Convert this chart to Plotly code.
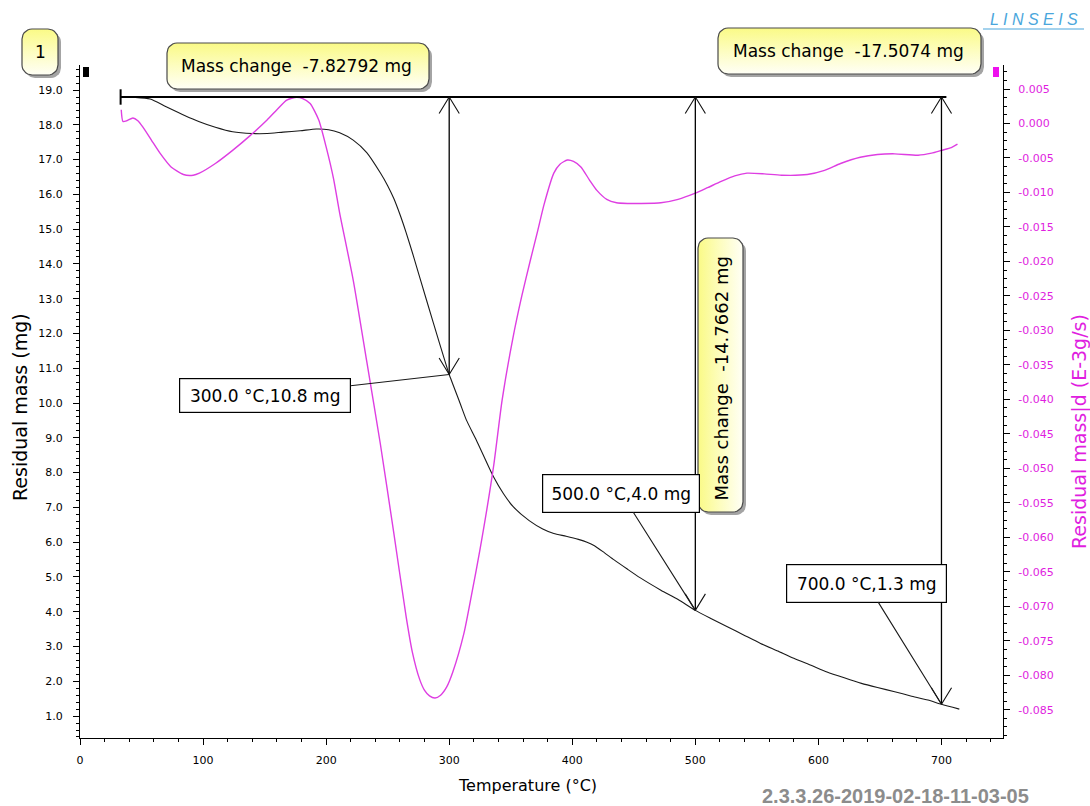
import numpy as np
import plotly.graph_objects as go

W, H = 1090, 806
FONT = "DejaVu Sans"

# ---------------- data ----------------
temp_mass = [33, 45, 57, 70, 85, 97, 110, 124, 140, 152, 165, 179, 192, 202, 211, 222, 233,
             244, 250, 255, 260, 265, 271, 276, 287, 298, 300, 309, 314, 322, 336, 344, 352,
             365, 376, 385, 395, 405, 412, 418, 426, 434, 445, 455, 472, 486, 500, 513, 526,
             540, 553, 567, 580, 594, 607, 621, 635, 648, 662, 675, 689, 700, 714.5]
mass = [18.80, 18.79, 18.74, 18.52, 18.27, 18.09, 17.93, 17.80, 17.75, 17.75, 17.79, 17.83,
        17.88, 17.86, 17.77, 17.56, 17.20, 16.62, 16.25, 15.88, 15.42, 14.90, 14.22, 13.62,
        12.32, 11.04, 10.82, 9.98, 9.51, 8.94, 7.88, 7.40, 7.02, 6.62, 6.38, 6.25, 6.17,
        6.08, 6.00, 5.90, 5.70, 5.49, 5.22, 4.98, 4.62, 4.35, 4.04, 3.80, 3.57, 3.32, 3.09,
        2.87, 2.66, 2.46, 2.27, 2.10, 1.94, 1.82, 1.70, 1.58, 1.46, 1.34, 1.20]

temp_dtg = [33.5, 34.9, 38, 43, 47, 51, 58, 65, 74, 84, 92, 97, 110, 124, 138, 152, 160, 168,
            176, 181, 187, 194, 200, 206, 211, 222, 233, 244, 255, 265, 270, 276, 280, 284,
            288.5, 293, 298, 303, 312, 318, 325, 336, 343, 352, 359, 366, 372, 377, 385, 390,
            396, 401, 407, 414, 420, 428, 436, 445, 455, 472, 486, 500, 510, 521, 532, 542,
            556, 570, 591, 605, 618, 634, 648, 662, 681, 692, 700, 708, 713]
dtg = [0.0020, 0.0003, 0.0004, 0.0008, 0.0004, -0.0005, -0.0024, -0.0043, -0.0063, -0.0074,
       -0.0075, -0.0072, -0.0058, -0.0039, -0.0018, 0.0005, 0.0020, 0.0034, 0.0038, 0.0036,
       0.0029, 0.0005, -0.0034, -0.0080, -0.0130, -0.0227, -0.0345, -0.0464, -0.0594,
       -0.0715, -0.0766, -0.0806, -0.0822, -0.0830, -0.0833, -0.0829, -0.0817, -0.0795,
       -0.0739, -0.0685, -0.0618, -0.0498, -0.0401, -0.0309, -0.0250, -0.0198, -0.0155,
       -0.0118, -0.0072, -0.0059, -0.0053, -0.0055, -0.0063, -0.0082, -0.0097, -0.0110,
       -0.0115, -0.0116, -0.0116, -0.0115, -0.0110, -0.0101, -0.0093, -0.0084, -0.0076,
       -0.0072, -0.0073, -0.0075, -0.0074, -0.0068, -0.0058, -0.0049, -0.0045, -0.0044,
       -0.0046, -0.0043, -0.0039, -0.0035, -0.0030]

marker_temps = [300, 500, 700]
mass_change_texts = ["Mass change\u00a0 -7.82792 mg", "Mass change\u00a0 -14.7662 mg",
                     "Mass change\u00a0 -17.5074 mg"]
x_ticks = [0, 100, 200, 300, 400, 500, 600, 700]
left_ticks = list(range(1, 20))
left_ticktext = [f"{v:.1f}" for v in left_ticks]
right_ticks = [round(-0.085 + 0.005 * i, 3) for i in range(19)]
right_ticktext = [f"{v:.3f}" for v in right_ticks]

BLACK = "#000000"
MAG_LINE = "rgb(222,62,226)"
MAG_TEXT = "#e01ee0"

fig = go.Figure()

# ---------------- curves ----------------
fig.add_trace(go.Scatter(x=temp_mass, y=mass, mode="lines", line=dict(color="#1a1a1a", width=1.1,
                         shape="spline", smoothing=0.6), xaxis="x", yaxis="y", showlegend=False))
fig.add_trace(go.Scatter(x=temp_dtg, y=dtg, mode="lines", line=dict(color=MAG_LINE, width=1.4,
                         shape="spline", smoothing=0.6), xaxis="x", yaxis="y2", showlegend=False))

# start cross of baseline
fig.add_trace(go.Scatter(x=[temp_mass[0]], y=[mass[0]], mode="markers",
                         marker=dict(symbol="line-ns", size=11, line=dict(width=2, color=BLACK)),
                         xaxis="x", yaxis="y", showlegend=False))

# baseline
base = mass[0]
fig.add_shape(type="line", xref="x", yref="y", x0=temp_mass[0], x1=marker_temps[-1] + 4,
              y0=base, y1=base, line=dict(color=BLACK, width=2))

# ---------------- overlay pixel axes for call-out boxes ----------------
def rrect(x0, y0, x1, y1, r, n=8):
    xs, ys = [], []
    corners = [(x1 - r, y0 + r, -90, 0), (x1 - r, y1 - r, 0, 90),
               (x0 + r, y1 - r, 90, 180), (x0 + r, y0 + r, 180, 270)]
    for cx, cy, a0, a1 in corners:
        for a in np.linspace(np.radians(a0), np.radians(a1), n):
            xs.append(cx + r * np.cos(a))
            ys.append(cy + r * np.sin(a))
    xs.append(xs[0]); ys.append(ys[0])
    return xs, ys

def yellow_box(x0, y0, x1, y1, r=10, horizontal=False):
    sx, sy = rrect(x0 + 3, y0 + 3, x1 + 3, y1 + 3, r)
    fig.add_trace(go.Scatter(x=sx, y=sy, mode="lines", fill="toself", line=dict(width=0),
                             fillcolor="rgba(90,90,90,0.55)", xaxis="x3", yaxis="y3",
                             showlegend=False, hoverinfo="skip"))
    bx, by = rrect(x0, y0, x1, y1, r)
    cs = [[0, "#fafa86"], [0.5, "#fdfdc0"], [1, "#fffff6"]]
    if horizontal:
        grad = dict(type="horizontal", start=x0, stop=x1, colorscale=cs)
    else:
        grad = dict(type="vertical", start=y0, stop=y1, colorscale=cs)
    fig.add_trace(go.Scatter(x=bx, y=by, mode="lines", fill="toself", fillgradient=grad,
                             line=dict(width=1.2, color="#4a4a4a"), xaxis="x3", yaxis="y3",
                             showlegend=False, hoverinfo="skip"))

yellow_box(22, 29, 58, 75)
yellow_box(167, 43, 429, 89)
yellow_box(718, 28, 981, 74)
yellow_box(698, 238, 743, 512, horizontal=True)

# ---------------- annotations ----------------
ann = []
ARM_DX, ARM_DY = 11, 18
for t in marker_temps:
    m = float(np.interp(t, temp_mass, mass))
    # shaft
    fig.add_shape(type="line", xref="x", yref="y", x0=t, x1=t, y0=m, y1=base,
                  line=dict(color=BLACK, width=1.3))
    # open arrow heads: top (pointing up) and bottom (pointing down)
    for yy, sgn in ((base, 1), (m, -1)):
        for sx in (-1, 1):
            ann.append(dict(x=t, y=yy, xref="x", yref="y", ax=sx * ARM_DX, ay=sgn * ARM_DY,
                            axref="pixel", ayref="pixel", text="", showarrow=True,
                            arrowhead=0, arrowwidth=1.1, arrowcolor="#111111", standoff=0))

label_offsets = [(-184, 21, 170, 33), (-74, -117, 156, 37), (-75, -121, 159, 37)]
for t, (ax, ay, w, h) in zip(marker_temps, label_offsets):
    m = float(np.interp(t, temp_mass, mass))
    ann.append(dict(x=t, y=m, xref="x", yref="y", ax=ax, ay=ay, axref="pixel", ayref="pixel",
                    text=f"{t:.1f} °C,{m:.1f} mg", showarrow=True, arrowhead=0,
                    arrowwidth=1.1, arrowcolor="#1a1a1a", standoff=0,
                    bgcolor="white", bordercolor=BLACK, borderwidth=1.2, borderpad=0,
                    width=w, height=h, font=dict(family=FONT, size=17, color=BLACK)))

def ptext(x, y, text, size, color=BLACK, angle=0, family=FONT, **kw):
    ann.append(dict(x=x, y=y, xref="x3", yref="y3", text=text, showarrow=False,
                    textangle=angle, font=dict(family=family, size=size, color=color),
                    xanchor="center", yanchor="middle", **kw))

ptext(40, 52, "1", 17)
ptext(296, 66, mass_change_texts[0], 17)
ptext(848, 51, mass_change_texts[2], 17)
ptext(720.5, 379, mass_change_texts[1], 18, angle=-90)
ptext(527, 785, "Temperature (°C)", 16)
ptext(20, 407, "Residual mass (mg)", 19, angle=-90)
ptext(1079, 432, "Residual mass|d (E-3g/s)", 19, color=MAG_TEXT, angle=-90)
ptext(1034, 19, "<i>L I N S E I S</i>", 16, color="#4aa6dc", family="Liberation Sans")
ptext(895, 796, "<b>2.3.3.26-2019-02-18-11-03-05</b>", 20, color="#8c8c8c",
      family="Liberation Sans")

shapes = [
    dict(type="line", xref="x3", yref="y3", x0=983, x1=1084, y0=29, y1=29,
         line=dict(color="#4aa6dc", width=1.2)),
    dict(type="rect", xref="x3", yref="y3", x0=83, x1=89, y0=67, y1=77,
         fillcolor=BLACK, line=dict(width=0)),
    dict(type="rect", xref="x3", yref="y3", x0=993, x1=999, y0=67, y1=77,
         fillcolor="#ee11ee", line=dict(width=0)),
]
for s in shapes:
    fig.add_shape(**s)

tickfont = dict(family=FONT, size=11, color=BLACK)
fig.update_layout(
    width=W, height=H, autosize=False,
    margin=dict(l=0, r=0, t=0, b=0, pad=0),
    paper_bgcolor="white", plot_bgcolor="rgba(0,0,0,0)",
    showlegend=False,
    annotations=ann,
    xaxis=dict(domain=[80 / W, 1003 / W], range=[0, 750], anchor="y",
               showline=True, linecolor=BLACK, linewidth=1, showgrid=False, zeroline=False,
               tickmode="array", tickvals=x_ticks, ticktext=[str(v) for v in x_ticks],
               ticks="outside", ticklen=6, tickcolor=BLACK, tickwidth=1,
               minor=dict(tickmode="linear", tick0=0, dtick=20, ticks="outside", ticklen=3,
                          tickcolor=BLACK, showgrid=False),
               tickfont=tickfont, ticklabelstandoff=6, automargin=False, fixedrange=True),
    yaxis=dict(domain=[1 - 738 / H, 1 - 65 / H], range=[0.37, 19.72], anchor="x",
               showline=True, linecolor=BLACK, linewidth=1, showgrid=False, zeroline=False,
               tickmode="array", tickvals=left_ticks, ticktext=left_ticktext,
               ticks="outside", ticklen=6, tickcolor=BLACK,
               minor=dict(tickmode="linear", tick0=0, dtick=0.2, ticks="outside", ticklen=3,
                          tickcolor=BLACK, showgrid=False),
               tickfont=tickfont, ticklabelstandoff=8, automargin=False, fixedrange=True),
    yaxis2=dict(overlaying="y", side="right", anchor="x", range=[-0.0891, 0.00848],
                showline=True, linecolor=BLACK, linewidth=1, showgrid=False, zeroline=False,
                tickmode="array", tickvals=right_ticks, ticktext=right_ticktext,
                ticks="outside", ticklen=6, tickcolor=BLACK,
                minor=dict(tickmode="linear", tick0=0, dtick=0.00125, ticks="outside",
                           ticklen=3, tickcolor=BLACK, showgrid=False),
                tickfont=dict(family=FONT, size=11, color=MAG_TEXT), ticklabelstandoff=6,
                automargin=False, fixedrange=True),
    xaxis3=dict(domain=[0, 1], range=[0, W], anchor="y3", visible=False, fixedrange=True),
    yaxis3=dict(domain=[0, 1], range=[H, 0], anchor="x3", visible=False, fixedrange=True),
)

fig.write_html("out.html", config={"displayModeBar": False},
               post_script="document.body.style.margin='0px';"
                           "document.body.style.overflow='hidden';")
